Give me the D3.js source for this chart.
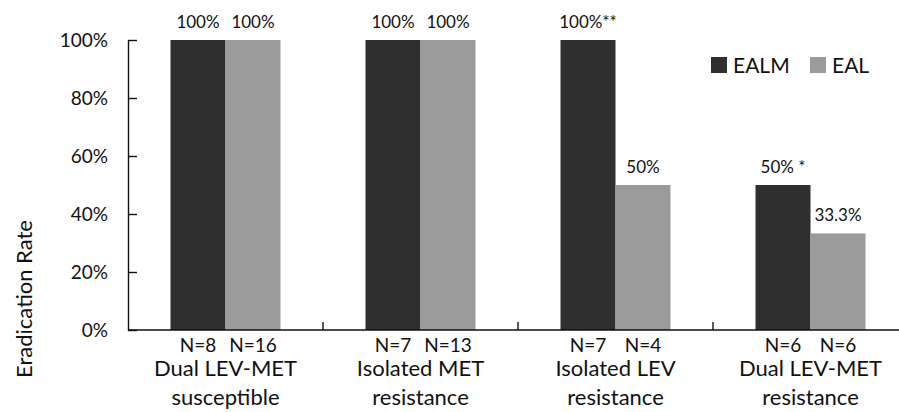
<!DOCTYPE html>
<html>
<head>
<meta charset="utf-8">
<script src="https://cdn.jsdelivr.net/npm/d3@7"></script>
<style>
  html, body { margin: 0; padding: 0; background: #fff; }
  svg { display: block; }
  text { font-family: Lato, "Open Sans", sans-serif; fill: #111; }
</style>
</head>
<body>
<svg id="chart" width="899" height="412"></svg>
<script>
// ---- data ----
const categories = [
  ["Dual LEV-MET", "susceptible"],
  ["Isolated MET", "resistance"],
  ["Isolated LEV", "resistance"],
  ["Dual LEV-MET", "resistance"]
];
const seriesNames = ["EALM", "EAL"];
const ealmValues = [100, 100, 100, 50];
const ealValues = [100, 100, 50, 33.3];
const ealmLabels = ["100%", "100%", "100%**", "50% *"];
const ealLabels = ["100%", "100%", "50%", "33.3%"];
const ealmN = ["N=8", "N=7", "N=7", "N=6"];
const ealN = ["N=16", "N=13", "N=4", "N=6"];
const yTicks = [0, 20, 40, 60, 80, 100];
const yTitle = "Eradication Rate";
const colors = { EALM: "#2f2f2f", EAL: "#9b9b9b" };

// ---- layout ----
const svg = d3.select("#chart");
const x0 = 128, x1 = 908, yTop = 40, yBottom = 330;

const xBand = d3.scaleBand().domain(d3.range(categories.length)).range([x0, x1]).padding(0);
const xSub = d3.scaleBand().domain(seriesNames).range([0, xBand.bandwidth()])
  .paddingInner(0).paddingOuter(0.7727);
const y = d3.scaleLinear().domain([0, 100]).range([yBottom, yTop]);

const rows = categories.map((c, i) => ({
  i,
  bars: [
    { s: "EALM", v: ealmValues[i], label: ealmLabels[i], n: ealmN[i] },
    { s: "EAL", v: ealValues[i], label: ealLabels[i], n: ealN[i] }
  ]
}));

// bars
const g = svg.append("g");
const groups = g.selectAll("g.grp").data(rows).join("g")
  .attr("class", "grp")
  .attr("transform", d => `translate(${xBand(d.i)},0)`);

groups.selectAll("rect").data(d => d.bars).join("rect")
  .attr("x", d => xSub(d.s))
  .attr("y", d => y(d.v))
  .attr("width", xSub.bandwidth())
  .attr("height", d => y(0) - y(d.v))
  .attr("fill", d => colors[d.s]);

// value labels
groups.selectAll("text.val").data(d => d.bars).join("text")
  .attr("class", "val")
  .attr("x", d => xSub(d.s) + xSub.bandwidth() / 2)
  .attr("y", d => y(d.v) - 12)
  .attr("text-anchor", "middle")
  .style("font-size", "17px")
  .text(d => d.label);

// N labels
groups.selectAll("text.n").data(d => d.bars).join("text")
  .attr("class", "n")
  .attr("x", d => xSub(d.s) + xSub.bandwidth() / 2)
  .attr("y", 352)
  .attr("text-anchor", "middle")
  .style("font-size", "19px")
  .text(d => d.n);

// category labels
groups.each(function(d) {
  const t = d3.select(this).append("text")
    .attr("text-anchor", "middle")
    .style("font-size", "22px");
  categories[d.i].forEach((line, k) => {
    t.append("tspan")
      .attr("x", xBand.bandwidth() / 2)
      .attr("y", 376 + k * 29)
      .text(line);
  });
});

// y axis
const yAxis = d3.axisLeft(y).tickValues(yTicks).tickFormat(d => d + "%")
  .tickSizeInner(-9).tickSizeOuter(0).tickPadding(20);
const ya = svg.append("g").attr("transform", `translate(${x0},0)`).call(yAxis);
ya.selectAll("text").style("font-size", "19px").style("font-family", "Lato, 'Open Sans', sans-serif").attr("fill", "#111");
ya.selectAll("line, path").attr("stroke", "#111").attr("stroke-width", 1.4);

// x axis line with category boundary ticks
svg.append("line")
  .attr("x1", x0).attr("x2", 899).attr("y1", yBottom).attr("y2", yBottom)
  .attr("stroke", "#111").attr("stroke-width", 1.4);
svg.selectAll("line.xt").data(d3.range(1, categories.length)).join("line")
  .attr("class", "xt")
  .attr("x1", i => xBand(i)).attr("x2", i => xBand(i))
  .attr("y1", yBottom).attr("y2", yBottom - 8)
  .attr("stroke", "#111").attr("stroke-width", 1.4);

// y title
svg.append("text")
  .attr("transform", "translate(32,299) rotate(-90)")
  .attr("text-anchor", "middle")
  .style("font-size", "22px")
  .text(yTitle);

// legend
const legendX = [711, 810];
const leg = svg.selectAll("g.leg").data(seriesNames).join("g")
  .attr("class", "leg")
  .attr("transform", (d, i) => `translate(${legendX[i]},57)`);
leg.append("rect").attr("width", 16).attr("height", 16).attr("fill", d => colors[d]);
leg.append("text").attr("x", 22).attr("y", 15.5)
  .style("font-size", "21px").text(d => d);
</script>
</body>
</html>
